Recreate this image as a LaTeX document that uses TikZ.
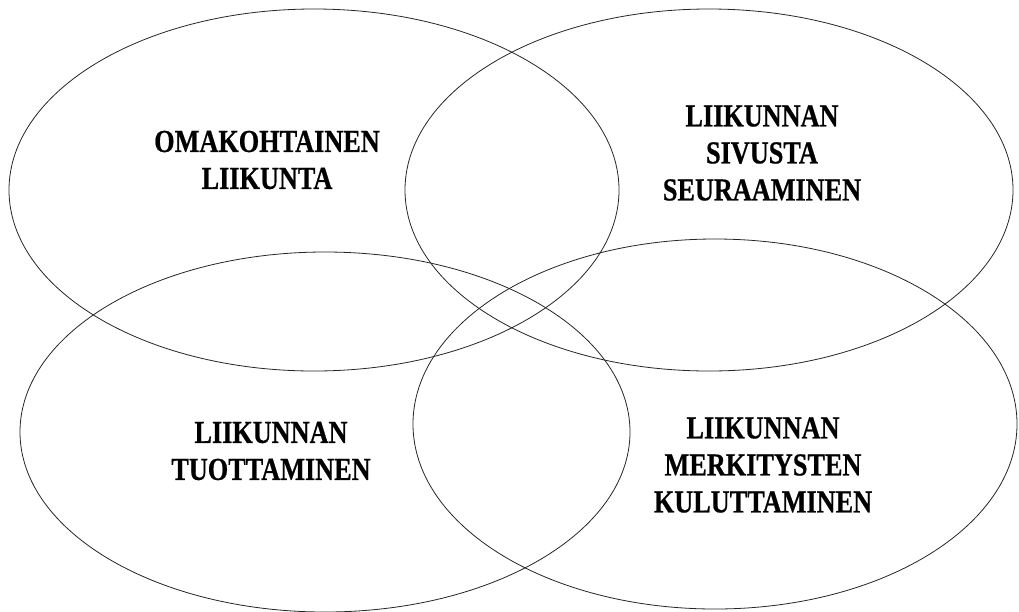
\documentclass[tikz,border=0pt]{standalone}
\usepackage{fontspec}
\newfontfamily\lblfont[FakeStretch=0.82, BoldFeatures={FakeBold=0.6}]{Liberation Serif}
\tikzset{
  ring/.style={draw=black!85, line width=0.8pt},
  lbl/.style={align=center, inner sep=0pt, font=\lblfont\bfseries\fontsize{32}{37}\selectfont}
}
\begin{document}
\begin{tikzpicture}[x=1pt, y=-1pt]
\useasboundingbox (0,0) rectangle (1019,611);
\clip (0,0) rectangle (1019,611);
\fill[white] (0,0) rectangle (1019,611);
\coordinate (c1) at (314,190);
\coordinate (c2) at (709,190);
\coordinate (c3) at (325,432);
\coordinate (c4) at (715,424);
\draw[ring] (c1) ellipse [x radius=305pt, y radius=181pt];
\draw[ring] (c2) ellipse [x radius=304pt, y radius=181pt];
\draw[ring] (c3) ellipse [x radius=305pt, y radius=180pt];
\draw[ring] (c4) ellipse [x radius=302pt, y radius=185pt];
\node[lbl] (t1) at (267,160) {OMAKOHTAINEN\\LIIKUNTA};
\node[lbl] (t2) at (762,153) {LIIKUNNAN\\SIVUSTA\\SEURAAMINEN};
\node[lbl] (t3) at (271,451) {LIIKUNNAN\\TUOTTAMINEN};
\node[lbl] (t4) at (763,465) {LIIKUNNAN\\MERKITYSTEN\\KULUTTAMINEN};
\end{tikzpicture}
\end{document}
